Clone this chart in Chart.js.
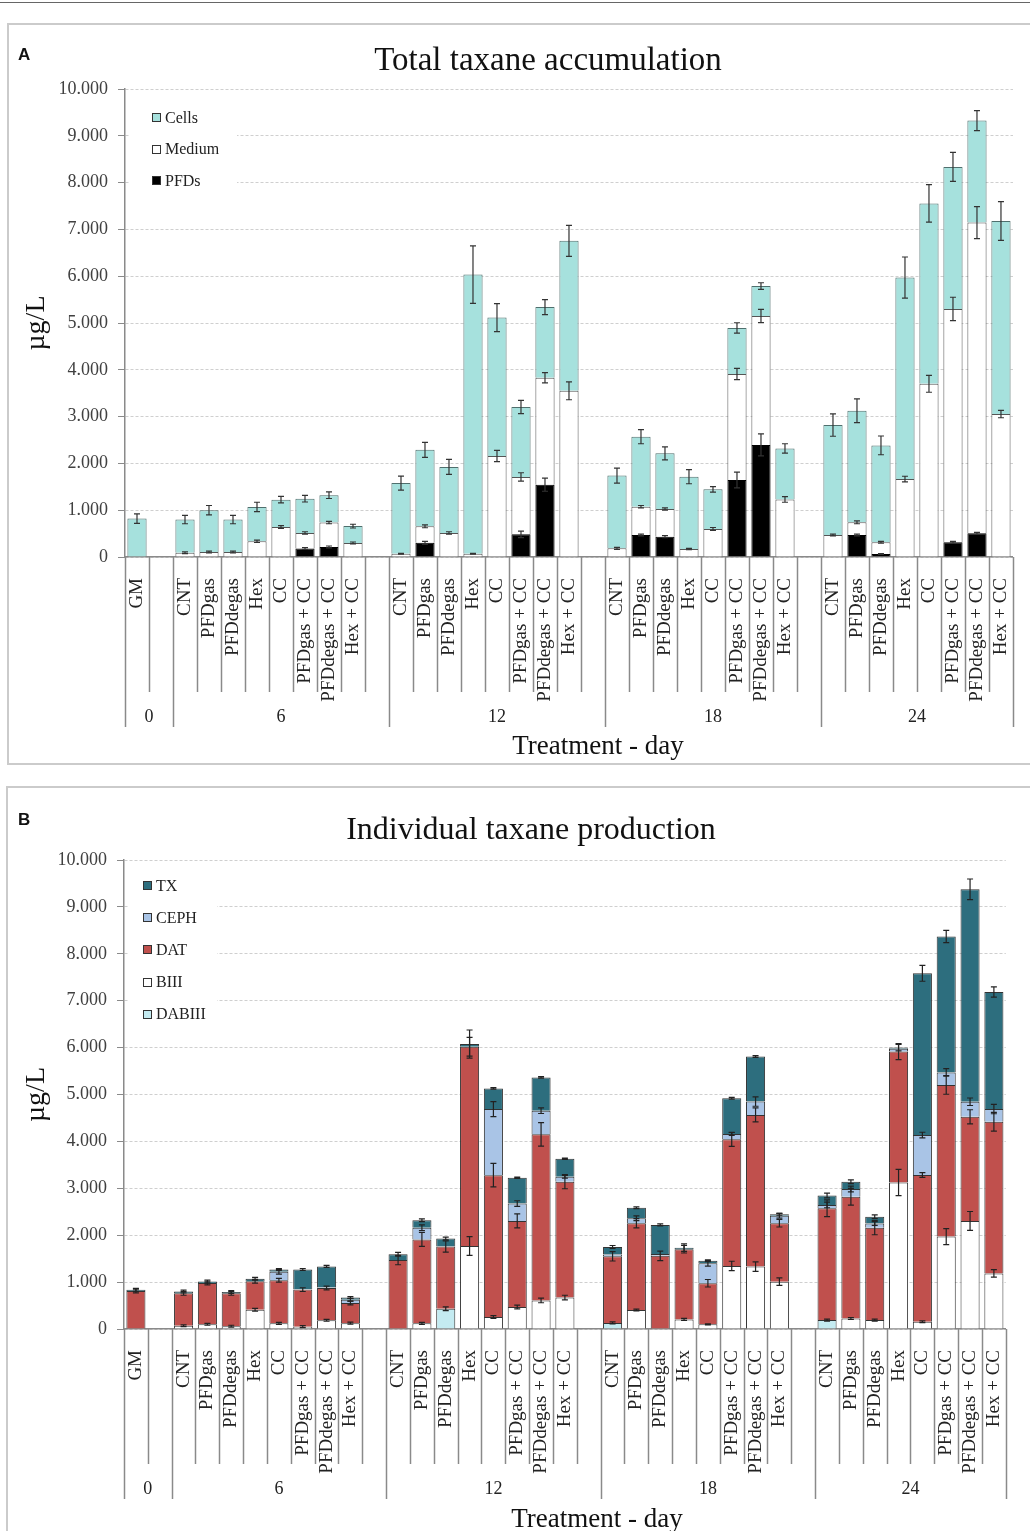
<!DOCTYPE html>
<html>
<head>
<meta charset="utf-8">
<script src="https://cdn.jsdelivr.net/npm/chart.js@4.4.1/dist/chart.umd.min.js"></script>
<style>
  body { margin: 0; width: 1030px; height: 1531px; position: relative; overflow: hidden; background: #fff;
         font-family: "Liberation Serif", "Times New Roman", serif; }
  canvas { position: absolute; left: 0; }
  .rule { position: absolute; left: 0; top: 2px; width: 1030px; height: 1px; background: #666; }
  .box { position: absolute; border: 2px solid #cbcbcb; }
  .txt { position: absolute; white-space: nowrap; color: #111; }
  .letter { font-family: "Liberation Sans", Arial, sans-serif; font-weight: bold; font-size: 17px; line-height: 17px; }
  .legend { position: absolute; background: #fff; }
  .item { position: absolute; left: 0; height: 20px; display: flex; align-items: center; font-size: 16px; color: #222; }
  .item span { display: inline-block; width: 7px; height: 7px; border: 1px solid #333; margin-right: 4px; }
</style>
</head>
<body>
<div class="rule"></div>
<canvas id="chartA" width="1037" height="765" style="top:0"></canvas>
<canvas id="chartB" width="1030" height="761" style="top:770px"></canvas>
<div class="box" style="left:7px; top:23px; width:1040px; height:738px"></div>
<div class="box" style="left:6px; top:786px; width:1040px; height:760px"></div>

<div class="txt letter" style="left:18px; top:46px">A</div>
<div class="txt letter" style="left:18px; top:811px">B</div>
<div class="txt" style="left:548px; top:43px; font-size:33px; line-height:33px; transform:translateX(-50%)">Total taxane accumulation</div>
<div class="txt" style="left:531px; top:812px; font-size:32px; line-height:32px; transform:translateX(-50%)">Individual taxane production</div>
<div class="txt" style="left:598px; top:732px; font-size:27px; line-height:27px; transform:translateX(-50%)">Treatment - day</div>
<div class="txt" style="left:597px; top:1505px; font-size:27px; line-height:27px; transform:translateX(-50%)">Treatment - day</div>

<div id="legendA" class="legend" style="left:130px; top:100px; width:107px; height:95px"></div>
<div id="legendB" class="legend" style="left:128px; top:868px; width:89px; height:162px"></div>

<script>
// categories: day groups 0, 6, 12, 18, 24 (empty slots separate the groups)
const treatments = [
    'GM', '',
    'CNT', 'PFDgas', 'PFDdegas', 'Hex', 'CC', 'PFDgas + CC', 'PFDdegas + CC', 'Hex + CC', '',
    'CNT', 'PFDgas', 'PFDdegas', 'Hex', 'CC', 'PFDgas + CC', 'PFDdegas + CC', 'Hex + CC', '',
    'CNT', 'PFDgas', 'PFDdegas', 'Hex', 'CC', 'PFDgas + CC', 'PFDdegas + CC', 'Hex + CC', '',
    'CNT', 'PFDgas', 'PFDdegas', 'Hex', 'CC', 'PFDgas + CC', 'PFDdegas + CC', 'Hex + CC'
];
const dayLabels = ['0', '6', '12', '18', '24'];
const daySizes = [2, 9, 9, 9, 8];
const yTickLabels = ['0', '1.000', '2.000', '3.000', '4.000', '5.000', '6.000', '7.000', '8.000', '9.000', '10.000'];

// Panel A - total taxane accumulation (µg/L)
const pfdsA = [0, 0, 0, 0, 0, 0, 0, 180, 215, 0, 0, 0, 305, 0, 0, 0, 485, 1545, 0, 0, 0, 470, 435, 0, 0, 1645, 2395, 0, 0, 0, 470, 65, 0, 0, 315, 505, 0];
const mediumA = [0, 0, 90, 105, 105, 335, 640, 335, 520, 300, 0, 70, 350, 515, 70, 2160, 1225, 2285, 3550, 0, 185, 605, 590, 170, 600, 2265, 2755, 1230, 0, 470, 270, 250, 1665, 3700, 4985, 6640, 3055];
const cellsA = [820, 0, 710, 895, 695, 735, 585, 730, 585, 360, 0, 1510, 1635, 1410, 5965, 2955, 1495, 1510, 3205, 0, 1555, 1495, 1190, 1545, 845, 985, 640, 1090, 0, 2350, 2385, 2070, 4305, 3855, 3035, 2180, 4125];
const pfdsErrA = [0, 0, 0, 0, 0, 0, 0, 20, 20, 0, 0, 0, 30, 0, 0, 0, 70, 140, 0, 0, 0, 20, 20, 0, 0, 170, 235, 0, 0, 0, 20, 10, 0, 0, 20, 20, 0];
const mediumErrA = [0, 0, 20, 20, 20, 25, 30, 25, 25, 20, 0, 10, 30, 25, 10, 120, 90, 110, 190, 0, 20, 25, 25, 15, 30, 120, 140, 60, 0, 20, 30, 20, 60, 180, 250, 340, 80];
const cellsErrA = [100, 0, 90, 100, 90, 100, 70, 70, 70, 40, 0, 150, 160, 160, 615, 300, 140, 160, 330, 0, 160, 150, 140, 150, 60, 110, 70, 100, 0, 240, 255, 200, 440, 400, 310, 215, 415];

// Panel B - individual taxane production (µg/L)
const dabiiiB = [0, 0, 0, 0, 0, 0, 0, 0, 0, 0, 0, 0, 0, 430, 0, 0, 0, 0, 0, 0, 130, 0, 0, 0, 0, 0, 0, 0, 0, 190, 0, 0, 0, 0, 0, 0, 0];
const biiiB = [0, 0, 70, 100, 60, 410, 120, 50, 185, 125, 0, 0, 120, 0, 1770, 255, 470, 610, 670, 0, 0, 405, 0, 205, 100, 1345, 1330, 1010, 0, 0, 225, 190, 3125, 155, 1970, 2305, 1185];
const datB = [810, 0, 690, 880, 700, 610, 920, 790, 690, 430, 0, 1470, 1790, 1330, 4250, 3025, 1835, 3540, 2470, 0, 1420, 1850, 1560, 1495, 875, 2700, 3235, 1245, 0, 2385, 2595, 1970, 2790, 3130, 3235, 2220, 3235];
const cephB = [0, 0, 0, 0, 0, 0, 180, 10, 10, 70, 0, 0, 250, 10, 0, 1410, 370, 505, 105, 0, 40, 105, 40, 0, 425, 115, 285, 160, 0, 70, 165, 90, 60, 850, 265, 320, 270];
const txB = [25, 0, 40, 35, 30, 50, 50, 420, 450, 45, 0, 125, 160, 160, 55, 440, 550, 710, 385, 0, 160, 225, 620, 35, 55, 760, 960, 30, 0, 200, 155, 145, 25, 3450, 2900, 4530, 2495];
const dabiiiErrB = [0, 0, 0, 0, 0, 0, 0, 0, 0, 0, 0, 0, 0, 40, 0, 0, 0, 0, 0, 0, 20, 0, 0, 0, 0, 0, 0, 0, 0, 20, 0, 0, 0, 0, 0, 0, 0];
const biiiErrB = [0, 0, 20, 20, 20, 30, 20, 20, 20, 20, 0, 0, 20, 0, 200, 30, 40, 50, 50, 0, 0, 20, 0, 20, 10, 100, 100, 80, 0, 0, 20, 20, 280, 20, 170, 200, 80];
const datErrB = [40, 0, 40, 40, 40, 40, 40, 40, 40, 40, 0, 100, 150, 120, 200, 250, 150, 250, 150, 0, 100, 100, 100, 80, 80, 150, 150, 80, 0, 180, 180, 150, 170, 50, 200, 150, 200];
const cephErrB = [0, 0, 0, 0, 0, 0, 50, 0, 0, 30, 0, 0, 60, 0, 0, 160, 60, 60, 30, 0, 0, 50, 0, 0, 60, 30, 100, 50, 0, 60, 60, 40, 0, 60, 80, 80, 100];
const txErrB = [30, 0, 30, 30, 30, 30, 20, 20, 20, 20, 0, 40, 30, 30, 300, 15, 15, 15, 15, 0, 30, 20, 20, 80, 20, 20, 20, 20, 0, 50, 40, 40, 70, 170, 130, 220, 110];

Chart.defaults.font.family = '"Liberation Serif", "Times New Roman", serif';

// error bars sit on the cumulative top of each stacked segment
const errorBars = {
    id: 'errorBars',
    afterDatasetsDraw(chart, args, opts) {
        const { ctx, scales: { x, y } } = chart;
        const sets = chart.data.datasets;
        ctx.save();
        ctx.strokeStyle = opts.color;
        ctx.lineWidth = 1.2;
        sets.forEach((ds, d) => {
            ds.errors.forEach((e, i) => {
                if (!e) return;
                let top = 0;
                for (let k = 0; k <= d; k++) top += sets[k].data[i];
                const px = x.getPixelForValue(i);
                const y1 = y.getPixelForValue(top + e);
                const y2 = y.getPixelForValue(top - e);
                ctx.beginPath();
                ctx.moveTo(px, y1); ctx.lineTo(px, y2);
                ctx.moveTo(px - 3, y1); ctx.lineTo(px + 3, y1);
                ctx.moveTo(px - 3, y2); ctx.lineTo(px + 3, y2);
                ctx.stroke();
            });
        });
        ctx.restore();
    }
};

// second level of the category axis: divider lines and day labels
const dayAxis = {
    id: 'dayAxis',
    afterDraw(chart, args, opts) {
        const { ctx, scales: { x } } = chart;
        const n = chart.data.labels.length;
        const step = x.width / n;
        const b = x.top;
        const edges = [0];
        opts.sizes.forEach(s => edges.push(edges[edges.length - 1] + s));
        ctx.save();
        ctx.strokeStyle = '#8a8a8a';
        ctx.lineWidth = 1.5;
        for (let i = 0; i <= n; i++) {
            const px = Math.round(x.left + i * step) + 0.5;
            ctx.beginPath();
            ctx.moveTo(px, b);
            ctx.lineTo(px, b + (edges.includes(i) ? 170 : 135));
            ctx.stroke();
        }
        ctx.fillStyle = '#222';
        ctx.font = '18px "Liberation Serif", serif';
        ctx.textAlign = 'center';
        ctx.textBaseline = 'middle';
        opts.labels.forEach((lab, g) => {
            const mid = x.left + (edges[g] + edges[g + 1]) / 2 * step;
            ctx.fillText(lab, mid, b + 160);
        });
        ctx.restore();
    }
};

function buildChart(id, datasets, padding, yWidth, errColor) {
    return new Chart(document.getElementById(id), {
        type: 'bar',
        data: { labels: treatments, datasets: datasets },
        options: {
            responsive: false,
            animation: false,
            layout: { padding: padding },
            datasets: { bar: { categoryPercentage: 1, barPercentage: 0.8, borderWidth: 1 } },
            plugins: {
                legend: { display: false },
                tooltip: { enabled: false },
                errorBars: { color: errColor },
                dayAxis: { labels: dayLabels, sizes: daySizes }
            },
            scales: {
                x: {
                    stacked: true,
                    grid: { display: false },
                    border: { display: true, color: '#8a8a8a', width: 1.5 },
                    ticks: { autoSkip: false, minRotation: 90, maxRotation: 90, padding: 13, color: '#222', font: { size: 19 } },
                    afterFit: s => { s.height = 190; }
                },
                y: {
                    stacked: true,
                    min: 0,
                    max: 10000,
                    ticks: { stepSize: 1000, padding: 10, color: '#404040', font: { size: 18 }, callback: (v, i) => yTickLabels[i] },
                    grid: { color: '#cfcfcf', tickColor: '#8a8a8a', tickLength: 7 },
                    border: { color: '#8a8a8a', width: 1.5, dash: [3, 2] },
                    title: { display: true, text: 'µg/L', color: '#111', font: { size: 28 }, padding: { top: 10 } },
                    afterFit: s => { s.width = yWidth; }
                }
            }
        },
        plugins: [errorBars, dayAxis]
    });
}

const seriesA = [
    { label: 'PFDs', data: pfdsA, errors: pfdsErrA, backgroundColor: '#000000', borderColor: '#000000' },
    { label: 'Medium', data: mediumA, errors: mediumErrA, backgroundColor: '#ffffff', borderColor: '#555555' },
    { label: 'Cells', data: cellsA, errors: cellsErrA, backgroundColor: '#a6e1dd', borderColor: '#4f6f6d' }
];
const seriesB = [
    { label: 'DABIII', data: dabiiiB, errors: dabiiiErrB, backgroundColor: '#c4ebf1', borderColor: '#333333' },
    { label: 'BIII', data: biiiB, errors: biiiErrB, backgroundColor: '#ffffff', borderColor: '#333333' },
    { label: 'DAT', data: datB, errors: datErrB, backgroundColor: '#c0504d', borderColor: '#333333' },
    { label: 'CEPH', data: cephB, errors: cephErrB, backgroundColor: '#a9c4e6', borderColor: '#333333' },
    { label: 'TX', data: txB, errors: txErrB, backgroundColor: '#2d6e7e', borderColor: '#333333' }
];

buildChart('chartA', seriesA, { left: 10, right: 17, top: 89, bottom: 18 }, 115, '#333');
buildChart('chartB', seriesB, { left: 10, right: 23, top: 90, bottom: 12 }, 114, '#222');

// legends listed top-down in reverse stacking order
function buildLegend(id, series, firstY, spacing, markLeft) {
    const box = document.getElementById(id);
    series.slice().reverse().forEach((s, k) => {
        const it = document.createElement('div');
        it.className = 'item';
        it.style.left = markLeft + 'px';
        it.style.top = (firstY + k * spacing - 10) + 'px';
        it.innerHTML = '<span style="background:' + s.backgroundColor + '"></span>' + s.label;
        box.appendChild(it);
    });
}
buildLegend('legendA', seriesA, 17.5, 31.7, 22);
buildLegend('legendB', seriesB, 17.5, 32.2, 15);
</script>
</body>
</html>
